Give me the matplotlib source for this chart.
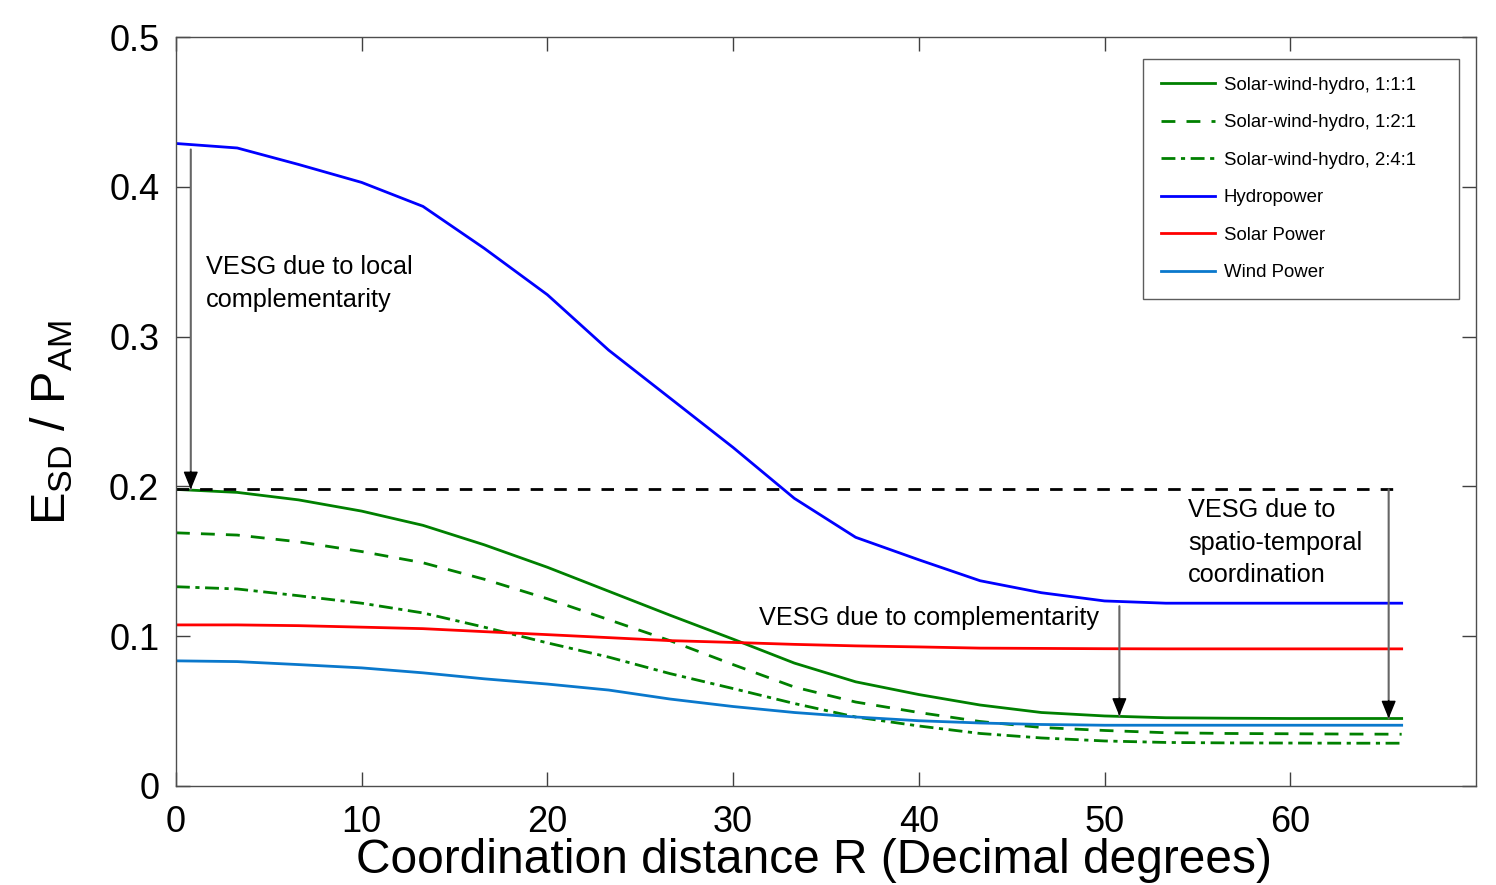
import matplotlib
matplotlib.use("Agg")
import matplotlib.pyplot as plt

plt.rcParams["font.family"] = ["Liberation Sans", "DejaVu Sans"]
plt.rcParams["mathtext.default"] = "regular"

# coordination distance R (decimal degrees)
distance = [0, 3.3, 6.6, 10, 13.3, 16.6, 20, 23.3, 26.6, 30, 33.3,
            36.6, 40, 43.3, 46.6, 50, 53.3, 56.6, 60, 63.3, 66]

swh_111 = [0.198, 0.196, 0.191, 0.1835, 0.174, 0.161, 0.146, 0.130, 0.114, 0.098, 0.082,
           0.0695, 0.061, 0.054, 0.049, 0.0467, 0.0455, 0.0452, 0.045, 0.045, 0.045]
swh_121 = [0.169, 0.1675, 0.163, 0.1565, 0.149, 0.138, 0.125, 0.111, 0.097, 0.081, 0.066,
           0.056, 0.049, 0.043, 0.039, 0.037, 0.0355, 0.035, 0.0348, 0.0346, 0.0345]
swh_241 = [0.133, 0.1315, 0.127, 0.122, 0.1155, 0.106, 0.0955, 0.086, 0.075, 0.065, 0.055,
           0.046, 0.040, 0.035, 0.032, 0.030, 0.029, 0.0287, 0.0286, 0.0285, 0.0285]
hydro = [0.429, 0.426, 0.415, 0.403, 0.387, 0.359, 0.328, 0.291, 0.259, 0.226, 0.192,
         0.166, 0.151, 0.137, 0.129, 0.1235, 0.122, 0.122, 0.122, 0.122, 0.122]
solar = [0.1075, 0.1075, 0.107, 0.106, 0.105, 0.103, 0.101, 0.099, 0.097, 0.0958, 0.0945,
         0.0935, 0.0928, 0.092, 0.0918, 0.0916, 0.0915, 0.0915, 0.0915, 0.0915, 0.0915]
wind = [0.0835, 0.083, 0.081, 0.0788, 0.0755, 0.0715, 0.068, 0.064, 0.058, 0.053, 0.049,
        0.046, 0.0435, 0.042, 0.041, 0.0405, 0.0405, 0.0405, 0.0405, 0.0405, 0.0405]

reference_level = 0.198

green = "#008000"
lw = 2.0

fig = plt.figure(figsize=(14.96, 8.85), dpi=100)
ax = fig.add_axes([0.1176, 0.112, 0.869, 0.846])

ax.plot(distance, swh_111, color=green, lw=lw, label="Solar-wind-hydro, 1:1:1")
ax.plot(distance, swh_121, color=green, lw=lw, ls=(0, (5, 4)), label="Solar-wind-hydro, 1:2:1")
ax.plot(distance, swh_241, color=green, lw=lw, ls=(0, (5, 2, 1.5, 2)), label="Solar-wind-hydro, 2:4:1")
ax.plot(distance, hydro, color="#0000ff", lw=lw, label="Hydropower")
ax.plot(distance, solar, color="#ff0000", lw=lw, label="Solar Power")
ax.plot(distance, wind, color="#0a78cc", lw=lw, label="Wind Power")
ax.plot([distance[0], distance[-1]], [reference_level, reference_level],
        color="black", lw=lw, ls=(0, (4.5, 4)))


def arrow(x, y_from, y_to):
    # grey shaft, black head (matlab style)
    ax.annotate("", xy=(x, y_to), xytext=(x, y_from),
                arrowprops=dict(arrowstyle="-", color="0.4", lw=1.5,
                                shrinkA=0, shrinkB=0))
    ax.annotate("", xy=(x, y_to), xytext=(x, y_to + 0.012),
                arrowprops=dict(arrowstyle="-|>,head_length=1.1,head_width=0.45",
                                color="black", lw=1, shrinkA=0, shrinkB=0))


arrow(0.8, 0.425, reference_level)
arrow(50.8, 0.120, swh_111[15])
arrow(65.3, reference_level, swh_111[-1])

txt = dict(fontsize=18.2, ha="left", linespacing=1.45)
ax.text(1.6, 0.3355, "VESG due to local\ncomplementarity", va="center", **txt)
ax.text(31.4, 0.112, "VESG due to complementarity", va="center", **txt)
ax.text(54.5, 0.1623, "VESG due to\nspatio-temporal\ncoordination", va="center", **txt)

ax.set_xlim(0, 70)
ax.set_ylim(0, 0.5)
ax.set_xticks(range(0, 61, 10))
ax.set_yticks([0, 0.1, 0.2, 0.3, 0.4, 0.5])
ax.set_yticklabels(["0", "0.1", "0.2", "0.3", "0.4", "0.5"])
ax.tick_params(direction="in", length=10, width=1, labelsize=26,
               top=True, right=True, color="0.25")
ax.tick_params(axis="x", pad=14)
ax.tick_params(axis="y", pad=12)
for sp in ax.spines.values():
    sp.set_color("0.3")
    sp.set_linewidth(1)

ax.set_xlabel("Coordination distance R (Decimal degrees)", fontsize=34.5, labelpad=-2)
ax.set_ylabel(r"E$_{SD}$ / P$_{AM}$", fontsize=35, labelpad=24)
ax.xaxis.label.set_x(0.491)
ax.yaxis.label.set_y(0.486)

leg = ax.legend(loc="upper left", bbox_to_anchor=(0.7438, 0.9706, 0.2432, 0.0),
                mode="expand", fontsize=13.4,
                frameon=True, fancybox=False, edgecolor="0.2", handlelength=2.9,
                handletextpad=0.5, labelspacing=1.1, borderpad=0.95,
                borderaxespad=0)
leg.get_frame().set_linewidth(1)

fig.savefig("out.png", dpi=100)
